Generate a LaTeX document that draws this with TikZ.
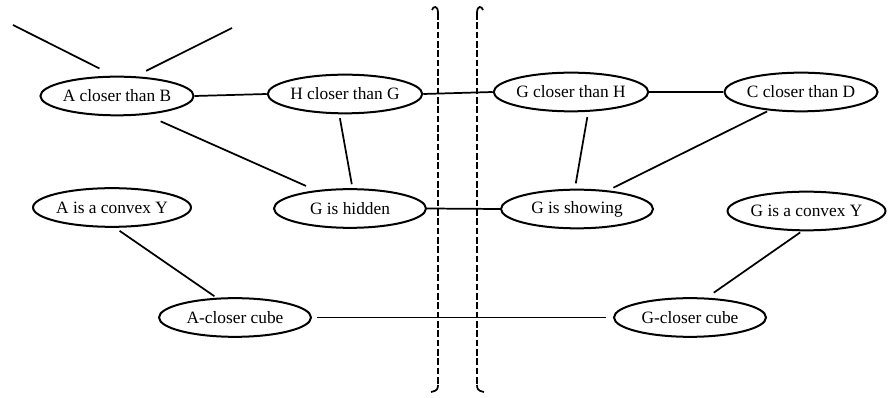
\documentclass[tikz,border=0pt]{standalone}
\usepackage{fontspec}
\setmainfont{Liberation Serif}
\usetikzlibrary{shapes.geometric}
\tikzset{
  event/.style = {draw, ellipse, line width=1.5pt, minimum width=114pt, minimum height=29pt, inner sep=0pt, font=\fontsize{13}{15}\selectfont},
  link/.style = {line width=1.3pt},
  wall/.style = {line width=1.2pt, dash pattern=on 5pt off 2pt}
}
\begin{document}
\begin{tikzpicture}[x=0.75pt, y=-0.75pt]
\useasboundingbox (0,0) rectangle (888,398);
\node[event] (acb) at (117,96) {A closer than B};
\node[event] (hcg) at (345,94) {H closer than G};
\node[event] (gch) at (571,92) {G closer than H};
\node[event] (ccd) at (801,92) {C closer than D};
\node[event] (aicy) at (112,207.5) {A is a convex Y};
\node[event] (gih) at (350,208.5) {G is hidden};
\node[event] (gis) at (577,209) {G is showing};
\node[event] (gicy) at (806.5,211) {G is a convex Y};
\node[event] (acc) at (235,317.5) {A-closer cube};
\node[event] (gcc) at (690,317.5) {G-closer cube};
\coordinate (upL) at (13,25);
\coordinate (upR) at (232,28);
\draw[link, shorten >=12pt] (upL) -- (acb.99);
\draw[link, shorten >=9pt] (upR) -- (acb.47);
\draw[link] (acb.east) -- (hcg.west);
\draw[link, shorten <=12pt, shorten >=8pt] (acb.-33) -- (gih.152);
\draw[link, shorten <=3pt, shorten >=3pt] (hcg.-106) -- (gih.83);
\draw[link] (hcg.east) -- (gch.west);
\draw[link] (gch.east) -- (ccd.west);
\draw[link, shorten <=4pt, shorten >=4pt] (gch.-49) -- (gis.96);
\draw[link, shorten <=1.5pt, shorten >=4.5pt] (ccd.-150) -- (gis.31);
\draw[link] (gih.east) -- (gis.west);
\draw[link, shorten <=4pt, shorten >=2pt] (aicy.-81) -- (acc.133);
\draw[link, shorten <=4pt, shorten >=5pt] (acc.east) -- (gcc.west);
\draw[link, shorten <=1.5pt, shorten >=6.5pt] (gicy.-103) -- (gcc.50);
% the two walls
\draw[wall] (438,13) -- (438,385);
\draw[wall] (477,13) -- (477,385);
\draw[link] (432,10) .. controls (433,6) and (438,5) .. (438,13);
\draw[link] (483,10) .. controls (482,6) and (477,5) .. (477,13);
\draw[link] (438,385) .. controls (438,392) and (433,391) .. (431,392);
\draw[link] (477,385) .. controls (477,392) and (482,391) .. (484,392);
\end{tikzpicture}
\end{document}
